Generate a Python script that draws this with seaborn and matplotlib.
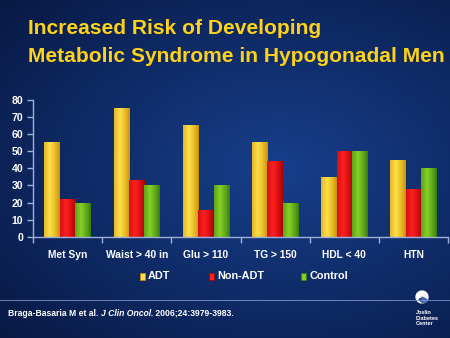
import numpy as np
import pandas as pd
import matplotlib
matplotlib.use("Agg")
import matplotlib.pyplot as plt
from matplotlib.patches import Rectangle, Circle, Wedge
from matplotlib.colors import to_rgb
import seaborn as sns

categories = ["Met Syn", "Waist > 40 in", "Glu > 110", "TG > 150", "HDL < 40", "HTN"]
adt = [55, 75, 65, 55, 35, 45]
non_adt = [22, 33, 16, 44, 50, 28]
control = [20, 30, 30, 20, 50, 40]
groups = ["ADT", "Non-ADT", "Control"]
yticks = [0, 10, 20, 30, 40, 50, 60, 70, 80]

df = pd.DataFrame({
    "category": categories * 3,
    "group": [g for g in groups for _ in categories],
    "value": adt + non_adt + control,
})

# (edge shade, centre highlight) for each series
shades = {
    "ADT": ("#c98f00", "#ffe04a"),
    "Non-ADT": ("#a80000", "#ff2020"),
    "Control": ("#347a0c", "#86cf26"),
}
palette = {g: shades[g][1] for g in groups}

sns.set_theme(style="white")
plt.rcParams["font.family"] = ["Liberation Sans", "DejaVu Sans"]

fig = plt.figure(figsize=(4.5, 3.38), dpi=100)

# dark blue slide backdrop with a soft lighter glow
bg = fig.add_axes([0, 0, 1, 1], zorder=-10)
yy, xx = np.mgrid[0:1:338j, 0:1:450j]
r = np.sqrt(((xx - 0.62) / 0.9) ** 2 + ((yy - 0.5) / 0.8) ** 2)
t = np.clip(r, 0, 1)[..., None]
inner = np.array(to_rgb("#173f8c"))
outer = np.array(to_rgb("#07163f"))
img = inner * (1 - t) + outer * t
bg.imshow(img, extent=[0, 1, 0, 1], aspect="auto", origin="upper")
bg.set_xlim(0, 1)
bg.set_ylim(0, 1)
bg.axis("off")

ax = fig.add_axes([33 / 450, 101 / 338, 415 / 450, 137.5 / 338])
ax.patch.set_alpha(0)

sns.barplot(data=df, x="category", y="value", hue="group", palette=palette,
            order=categories, hue_order=groups, width=0.67, gap=0,
            saturation=1, legend=False, linewidth=0, edgecolor="none", ax=ax)

# cylinder shading on every bar
def bar_gradient(edge, mid, n=64):
    e = np.array(to_rgb(edge))
    m = np.array(to_rgb(mid))
    s = np.linspace(-1, 1, n)
    w = (1 - np.abs(s + 0.25) / 1.25) ** 0.8
    w = np.clip(w, 0, 1)[:, None]
    return (e * (1 - w) + m * w)[None, :, :]

patch_groups = []
for g in groups:
    patch_groups += [g] * len(categories)
for bar, g in zip(ax.patches, patch_groups):
    x0, w, h = bar.get_x(), bar.get_width(), bar.get_height()
    im = ax.imshow(bar_gradient(*shades[g]), extent=[x0, x0 + w, 0, h],
                   aspect="auto", zorder=bar.get_zorder() + 0.1)
    im.set_clip_path(bar)

ax.set_xlim(-0.5, len(categories) - 0.5)
ax.set_ylim(0, 80)
ax.set_yticks(yticks)
ax.set_xlabel("")
ax.set_ylabel("")

axis_col = "#9fb0d6"
for side in ["top", "right"]:
    ax.spines[side].set_visible(False)
for side in ["left", "bottom"]:
    ax.spines[side].set_color(axis_col)
    ax.spines[side].set_linewidth(1.0)

ax.set_xticks(np.arange(len(categories)))
ax.set_xticklabels(categories)
ax.set_xticks(np.arange(len(categories) + 1) - 0.5, minor=True)
ax.tick_params(axis="x", which="major", length=0, pad=9,
               labelsize=7.4, labelcolor="white")
ax.tick_params(axis="x", which="minor", length=4, color=axis_col,
               direction="out", width=1, bottom=True)
ax.tick_params(axis="y", length=4, color=axis_col, direction="out", width=1,
               labelsize=7.6, labelcolor="white", pad=3, left=True)
for lbl in ax.get_xticklabels() + ax.get_yticklabels():
    lbl.set_fontweight("bold")

# title
fig.text(28 / 450, 1 - 29 / 338, "Increased Risk of Developing",
         color="#ffd21a", fontsize=15.1, fontweight="bold", va="center", ha="left")
fig.text(28 / 450, 1 - 56 / 338, "Metabolic Syndrome in Hypogonadal Men",
         color="#ffd21a", fontsize=15.1, fontweight="bold", va="center", ha="left")

# legend
leg_x = [140, 209, 301]
for g, lx in zip(groups, leg_x):
    fig.patches.append(Rectangle((lx / 450, 1 - 280 / 338), 5 / 450, 7 / 338,
                                 transform=fig.transFigure,
                                 facecolor=shades[g][1], edgecolor=shades[g][0],
                                 linewidth=0.5))
    fig.text((lx + 8) / 450, 1 - 276 / 338, g, color="white", fontsize=7.8,
             fontweight="bold", va="center", ha="left")

# footer rule
fig.add_artist(plt.Line2D([0, 1], [1 - 300 / 338, 1 - 300 / 338],
                          transform=fig.transFigure, color="#7f93c4",
                          linewidth=0.8, alpha=0.8))

# citation with italic journal name
fig.canvas.draw()
renderer = fig.canvas.get_renderer()
x = 8 / 450
for piece, style in [("Braga-Basaria M et al. ", "normal"),
                     ("J Clin Oncol.", "italic"),
                     (" 2006;24:3979-3983.", "normal")]:
    t_ = fig.text(x, 1 - 313 / 338, piece, color="white", fontsize=6.2,
                  fontweight="bold", fontstyle=style, va="center", ha="left")
    bb = t_.get_window_extent(renderer)
    x += bb.width / fig.bbox.width

# institution mark
logo = fig.add_axes([(422 - 7) / 450, 1 - 304 / 338, 14 / 450, 14 / 338])
logo.set_xlim(-1, 1)
logo.set_ylim(-1, 1)
logo.axis("off")
logo.add_patch(Circle((0, 0), 0.85, color="white"))
logo.add_patch(Wedge((0.15, -0.1), 0.6, 200, 330, color="#1f3f85"))
logo.add_patch(Wedge((0.0, 0.0), 0.85, 270, 330, color="#4a6ab0"))
fig.text(416 / 450, 1 - 318 / 338, "Joslin\nDiabetes\nCenter", color="white",
         fontsize=4.0, fontweight="bold", va="center", ha="left", linespacing=1.2)

fig.savefig("out.png", dpi=100, facecolor=fig.get_facecolor())
